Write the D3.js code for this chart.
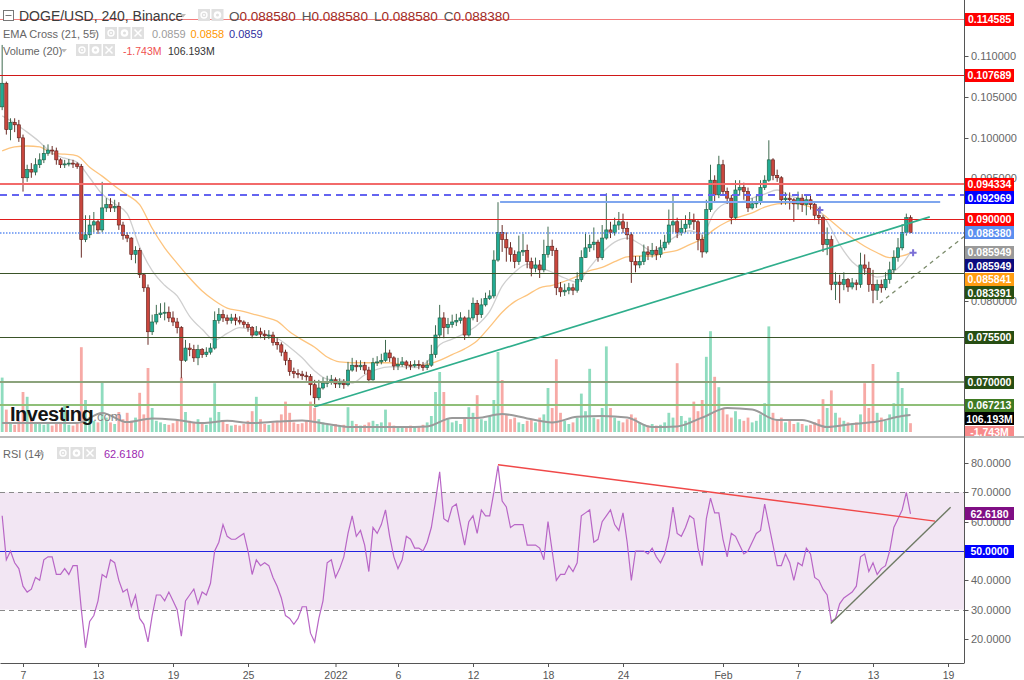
<!DOCTYPE html>
<html><head><meta charset="utf-8">
<script src="https://cdnjs.cloudflare.com/ajax/libs/d3/7.8.5/d3.min.js"></script>
<style>html,body{margin:0;padding:0;background:#fff;overflow:hidden}svg{display:block;font-family:"Liberation Sans",Arial,sans-serif}</style>
</head><body><svg id="chart" width="1024" height="680"></svg>
<script>
// ---------------- DATA ----------------
const firstBar = Date.UTC(2021, 11, 5, 8);   // bars every 8 hours
const barHours = 8;
const firstOpen = 0.1038;
const closes = [
0.1067,0.1010,0.1019,0.1016,0.1000,0.0951,0.0961,0.0958,0.0967,0.0973,
0.0981,0.0985,0.0984,0.0973,0.0967,0.0968,0.0969,0.0968,0.0965,0.0875,
0.0881,0.0893,0.0897,0.0887,0.0914,0.0918,0.0914,0.0916,0.0893,0.0880,
0.0877,0.0857,0.0862,0.0832,0.0816,0.0762,0.0774,0.0783,0.0785,0.0786,
0.0779,0.0774,0.0767,0.0727,0.0742,0.0740,0.0730,0.0740,0.0734,0.0737,
0.0742,0.0776,0.0783,0.0779,0.0776,0.0779,0.0776,0.0774,0.0771,0.0767,
0.0758,0.0762,0.0759,0.0757,0.0758,0.0749,0.0746,0.0737,0.0727,0.0713,
0.0711,0.0710,0.0708,0.0707,0.0697,0.0681,0.0693,0.0699,0.0700,0.0703,
0.0698,0.0699,0.0697,0.0715,0.0721,0.0719,0.0721,0.0715,0.0703,0.0724,
0.0725,0.0727,0.0736,0.0730,0.0720,0.0722,0.0725,0.0721,0.0720,0.0722,
0.0721,0.0718,0.0721,0.0734,0.0758,0.0779,0.0767,0.0771,0.0774,0.0776,
0.0779,0.0758,0.0779,0.0797,0.0783,0.0795,0.0803,0.0806,0.0850,0.0884,
0.0875,0.0865,0.0857,0.0848,0.0860,0.0862,0.0848,0.0840,0.0844,0.0838,
0.0857,0.0867,0.0862,0.0816,0.0811,0.0813,0.0816,0.0813,0.0826,0.0853,
0.0865,0.0869,0.0872,0.0853,0.0877,0.0887,0.0884,0.0893,0.0897,0.0889,
0.0881,0.0848,0.0844,0.0848,0.0860,0.0857,0.0862,0.0857,0.0865,0.0872,
0.0893,0.0897,0.0884,0.0889,0.0894,0.0899,0.0897,0.0875,0.0860,0.0912,
0.0948,0.0930,0.0967,0.0934,0.0926,0.0902,0.0936,0.0939,0.0934,0.0914,
0.0919,0.0921,0.0939,0.0948,0.0973,0.0954,0.0951,0.0924,0.0926,0.0924,
0.0919,0.0926,0.0918,0.0924,0.0918,0.0905,0.0902,0.0869,0.0875,0.0820,
0.0823,0.0820,0.0826,0.0817,0.0822,0.0820,0.0844,0.0840,0.0820,0.0813,
0.0820,0.0816,0.0826,0.0838,0.0853,0.0865,0.0884,0.0902,0.08838];
const highs = [
0.1114,0.1069,0.1024,0.1024,0.1022,0.1004,0.0967,0.0969,0.0975,0.0981,
0.0991,0.0992,0.0990,0.0988,0.0975,0.0973,0.0974,0.0973,0.0970,0.0968,
0.0905,0.0905,0.0909,0.0900,0.0946,0.0926,0.0926,0.0924,0.0921,0.0897,
0.0884,0.0878,0.0867,0.0865,0.0834,0.0820,0.0783,0.0795,0.0797,0.0798,
0.0793,0.0787,0.0779,0.0769,0.0752,0.0748,0.0746,0.0746,0.0742,0.0743,
0.0748,0.0787,0.0791,0.0789,0.0783,0.0784,0.0784,0.0781,0.0776,0.0774,
0.0769,0.0769,0.0767,0.0764,0.0764,0.0762,0.0754,0.0749,0.0740,0.0730,
0.0718,0.0716,0.0714,0.0713,0.0710,0.0703,0.0703,0.0706,0.0708,0.0709,
0.0706,0.0705,0.0704,0.0725,0.0730,0.0727,0.0727,0.0725,0.0719,0.0730,
0.0732,0.0735,0.0752,0.0740,0.0732,0.0730,0.0731,0.0727,0.0726,0.0727,
0.0727,0.0725,0.0727,0.0746,0.0770,0.0795,0.0786,0.0779,0.0783,0.0784,
0.0786,0.0781,0.0789,0.0804,0.0801,0.0803,0.0810,0.0813,0.0862,0.0921,
0.0893,0.0884,0.0872,0.0862,0.0880,0.0882,0.0869,0.0853,0.0853,0.0850,
0.0875,0.0891,0.0875,0.0865,0.0823,0.0821,0.0822,0.0821,0.0835,0.0862,
0.0884,0.0881,0.0890,0.0875,0.0893,0.0932,0.0897,0.0902,0.0909,0.0907,
0.0897,0.0884,0.0855,0.0855,0.0869,0.0867,0.0871,0.0867,0.0875,0.0881,
0.0912,0.0930,0.0902,0.0899,0.0905,0.0909,0.0907,0.0899,0.0881,0.0924,
0.0967,0.0954,0.0978,0.0973,0.0939,0.0930,0.0948,0.0948,0.0945,0.0939,
0.0926,0.0929,0.0948,0.0954,0.0997,0.0975,0.0961,0.0953,0.0933,0.0933,
0.0926,0.0934,0.0931,0.0930,0.0929,0.0922,0.0914,0.0905,0.0890,0.0880,
0.0835,0.0832,0.0835,0.0828,0.0828,0.0826,0.0859,0.0857,0.0848,0.0838,
0.0826,0.0826,0.0835,0.0848,0.0862,0.0877,0.0894,0.0907,0.0905];
const lows = [
0.1034,0.1004,0.0997,0.1007,0.0995,0.0934,0.0946,0.0951,0.0954,0.0963,
0.0969,0.0978,0.0979,0.0967,0.0963,0.0963,0.0965,0.0963,0.0962,0.0853,
0.0872,0.0877,0.0884,0.0882,0.0884,0.0909,0.0909,0.0909,0.0887,0.0875,
0.0872,0.0850,0.0846,0.0828,0.0811,0.0746,0.0758,0.0771,0.0779,0.0776,
0.0774,0.0769,0.0760,0.0705,0.0725,0.0732,0.0725,0.0721,0.0730,0.0731,
0.0734,0.0740,0.0772,0.0774,0.0771,0.0772,0.0770,0.0771,0.0767,0.0762,
0.0754,0.0757,0.0754,0.0752,0.0753,0.0745,0.0740,0.0732,0.0721,0.0708,
0.0705,0.0705,0.0703,0.0702,0.0684,0.0670,0.0678,0.0691,0.0694,0.0697,
0.0693,0.0693,0.0692,0.0695,0.0713,0.0713,0.0715,0.0710,0.0699,0.0702,
0.0720,0.0722,0.0725,0.0725,0.0715,0.0715,0.0719,0.0716,0.0715,0.0718,
0.0716,0.0714,0.0715,0.0719,0.0730,0.0754,0.0754,0.0759,0.0767,0.0769,
0.0772,0.0752,0.0756,0.0776,0.0774,0.0779,0.0793,0.0801,0.0803,0.0848,
0.0860,0.0848,0.0848,0.0840,0.0844,0.0855,0.0840,0.0830,0.0835,0.0828,
0.0835,0.0853,0.0855,0.0807,0.0805,0.0806,0.0808,0.0807,0.0810,0.0823,
0.0853,0.0860,0.0862,0.0848,0.0850,0.0875,0.0877,0.0880,0.0887,0.0883,
0.0875,0.0822,0.0835,0.0840,0.0844,0.0850,0.0853,0.0850,0.0853,0.0862,
0.0869,0.0884,0.0877,0.0880,0.0884,0.0889,0.0887,0.0862,0.0853,0.0858,
0.0909,0.0920,0.0926,0.0929,0.0919,0.0894,0.0899,0.0929,0.0924,0.0909,
0.0912,0.0914,0.0918,0.0936,0.0946,0.0948,0.0946,0.0918,0.0918,0.0912,
0.0897,0.0912,0.0909,0.0905,0.0912,0.0899,0.0894,0.0860,0.0856,0.0813,
0.0801,0.0797,0.0813,0.0811,0.0814,0.0813,0.0816,0.0832,0.0811,0.0797,
0.0801,0.0810,0.0813,0.0821,0.0833,0.0848,0.0862,0.0880,0.0883];
const volumes = [ // millions
340,140,60,45,70,250,220,80,50,60, 45,55,40,60,50,170,45,40,55,530,
200,90,70,60,310,90,60,50,125,80, 120,70,90,245,110,400,150,70,60,50,
45,55,80,340,125,70,60,80,50,45, 90,305,125,70,50,40,45,40,50,70,
130,220,80,50,45,60,70,110,190,120, 60,50,55,70,190,150,80,60,45,40,
50,40,45,155,70,50,40,45,60,70, 50,60,140,60,40,35,30,35,40,30,
35,45,60,100,250,375,250,80,60,70, 50,90,155,120,230,80,70,100,200,500,
325,110,80,90,60,50,70,80,60,90, 110,275,150,455,120,70,50,60,90,240,
130,395,90,80,150,535,150,90,70,60, 80,110,90,60,50,40,50,40,45,60,
120,90,430,100,70,90,190,130,200,470, 630,345,280,150,110,90,130,80,70,90,
60,70,110,180,660,120,80,90,60,70, 50,60,50,40,45,60,80,205,150,260,
120,90,70,60,50,60,110,305,150,425, 120,90,70,110,180,375,275,150,55];
const rsi = [
62,47,50,46,44,38,36,37,41,40, 47,48,48,42,42,44,42,45,45,30,
17,26,28,33,42,41,47,46,40,36, 37,31,35,27,25,19,28,35,35,33,
36,33,30,21,33,35,37,32,36,35, 39,50,53,59,55,54,54,55,56,50,
42,47,45,46,45,41,38,34,28,27, 25,27,31,31,22,19,27,33,46,47,
41,44,48,56,62,55,57,52,43,58, 56,59,64,55,48,44,47,55,54,51,
51,50,53,58,67,77,61,60,65,66, 59,52,60,62,56,64,62,62,70,79,
67,65,58,59,59,59,52,52,52,51, 47,60,50,40,42,42,45,43,46,62,
63,64,53,54,60,62,64,59,57,63, 53,40,50,50,50,49,51,48,46,49,
55,65,56,55,58,62,61,51,45,61, 68,63,63,54,48,56,55,52,49,50,
53,56,57,66,59,52,45,45,49,46, 40,46,45,51,49,41,40,37,35,26,
27,32,34,35,36,38,48,49,43,46, 42,44,45,50,58,61,64,70,62.618];
// EMA values read every 3rd bar (last value = last bar)
const ema21 = [
0.1027,0.1018,0.1007,0.0995,0.0981,0.0975,0.0970,0.0951,0.0931,0.0919,
0.0907,0.0866,0.0837,0.0819,0.0806,0.0781,0.0765,0.0752,0.0760,0.0767,
0.0764,0.0759,0.0754,0.0743,0.0730,0.0714,0.0704,0.0703,0.0699,0.0709,
0.0716,0.0719,0.0719,0.0718,0.0725,0.0746,0.0753,0.0760,0.0770,0.0787,
0.0818,0.0835,0.0845,0.0841,0.0835,0.0828,0.0823,0.0841,0.0859,0.0872,
0.0877,0.0870,0.0861,0.0870,0.0880,0.0886,0.0882,0.0909,0.0920,0.0921,
0.0926,0.0931,0.0936,0.0929,0.0924,0.0918,0.0897,0.0869,0.0848,0.0837,
0.0829,0.0833,0.0845,0.085949];
const ema55 = [
0.0984,0.0989,0.0990,0.0989,0.0981,0.0980,0.0978,0.0964,0.0953,0.0941,
0.0930,0.0918,0.0889,0.0865,0.0846,0.0828,0.0812,0.0800,0.0791,0.0788,
0.0784,0.0780,0.0775,0.0762,0.0752,0.0743,0.0731,0.0725,0.0724,0.0724,
0.0724,0.0724,0.0722,0.0721,0.0722,0.0727,0.0734,0.0741,0.0751,0.0768,
0.0786,0.0799,0.0807,0.0816,0.0819,0.0824,0.0830,0.0837,0.0841,0.0848,
0.0854,0.0855,0.0855,0.0859,0.0862,0.0869,0.0876,0.0888,0.0897,0.0903,
0.0908,0.0915,0.0919,0.0920,0.0918,0.0913,0.0902,0.0889,0.0877,0.0867,
0.0859,0.0853,0.0855,0.085841];
// Volume MA(20) read every 6th bar (millions)
const volMa = [56,56,56,56,119,62,85,75,56,70,56,65,72,50,31,31,31,35,88,88,
112,85,60,95,100,90,31,35,90,150,140,75,75,31,50,65,100,106.193];
// horizontal levels
const levelPrices = [0.114585,0.107689,0.094334,0.092969,0.090000,0.088380,0.083391,0.075500,0.070000,0.067213];
const resistSegDates = ["2022-01-14T04:00Z","2022-02-18T09:00Z"];
const resistSegPrices = [0.0921,0.0921];
const trendUpDates = ["2021-12-30T08:00Z","2022-02-17T13:00Z"];
const trendUpPrices = [0.0670,0.0903];
const trendDashDates = ["2022-02-13T13:00Z","2022-02-20T07:00Z"];
const trendDashPrices = [0.0797,0.0879];
const crossDates = ["2022-02-08T18:00Z","2022-02-16T05:00Z"];
const crossPrices = [0.09115,0.0859];
const rsiDownDates = ["2022-01-14T00:00Z","2022-02-17T23:00Z"];
const rsiDownValues = [79.4,60.2];
const rsiUpDates = ["2022-02-09T15:00Z","2022-02-19T05:00Z"];
const rsiUpValues = [25.3,64.9];
// axis labels
const axisLabelValues = [0.114585,0.107689,0.094334,0.092969,0.090000,0.088380,0.085949,0.085949,0.085841,0.083391,0.075500,0.070000,0.067213];
const volLabelValues = [106.193,-1.743];
const priceTicks = [0.080,0.095,0.100,0.105,0.110];
const priceTickMarks = [0.070,0.075,0.080,0.085,0.090,0.095,0.100,0.105,0.110];
const rsiTicks = [20,30,40,60,70,80];
const rsiTickMarks = [20,30,40,50,60,70,80];
const rsiLevels = [70,50,30];
const dateTicks = ["2021-12-07","2021-12-13","2021-12-19","2021-12-25","2022-01-01","2022-01-06","2022-01-12","2022-01-18","2022-01-24","2022-02-01","2022-02-07","2022-02-13","2022-02-19"];
const dateLabels = ["7","13","19","25","2022","6","12","18","24","Feb","7","13","19"];
const ohlcLegend = [0.088580,0.088580,0.088580,0.088380];
const emaLegend = [0.0859,0.0858,0.0859];

// ---------------- LAYOUT ----------------
const svg = d3.select('#chart');
const AX = 964, PANE_B = 436, XAX_Y = 663;
const DAY = 864e5, PX_DAY = 12.5;
const origin = Date.UTC(2021,11,7) - (23/PX_DAY)*DAY;
const x = d3.scaleUtc().domain([new Date(origin), new Date(origin + AX/PX_DAY*DAY)]).range([0, AX]);
const yP = d3.scaleLinear().domain([0.067213, 0.114585]).range([405, 19]);
const yV = d3.scaleLinear().domain([0, 600]).range([432, 336]);
const yR = d3.scaleLinear().domain([20, 80]).range([639, 463]);
const barTime = i => new Date(firstBar + i*barHours*3600e3);
const fmtM = v => d3.format('.3f')(v).replace('\u2212','-') + 'M';
const snap = v => Math.round(v) + 0.5;

const bars = closes.map((c,i)=>({t:barTime(i), o:i?closes[i-1]:firstOpen, h:highs[i], l:lows[i], c, v:volumes[i], r:rsi[i]}));
const isUp = d => d.c >= d.o;

const defs = svg.append('defs');
defs.append('clipPath').attr('id','cp').append('rect').attr('x',0).attr('y',0).attr('width',AX).attr('height',PANE_B);
defs.append('clipPath').attr('id','cr').append('rect').attr('x',0).attr('y',440).attr('width',AX).attr('height',XAX_Y-440);
defs.append('clipPath').attr('id','cl').append('rect').attr('x',0).attr('y',0).attr('width',1024).attr('height',PANE_B);

svg.append('rect').attr('width',1024).attr('height',680).attr('fill','#fff');

// ---------------- PRICE PANE ----------------
const P = svg.append('g').attr('clip-path','url(#cp)');
P.append('g').selectAll('rect').data(bars).join('rect')
  .attr('x',d=>x(d.t)-1.4).attr('width',2.8)
  .attr('y',d=>yV(d.v)).attr('height',d=>yV(0)-yV(d.v))
  .attr('fill',d=>isUp(d)?'#8fdcbf':'#f7aaa6');
const volMaBars = d3.range(0,217,6).concat([218]);
P.append('path').datum(volMa).attr('fill','none').attr('stroke','#9a9a9a').attr('stroke-width',2)
  .attr('d', d3.line().x((d,i)=>x(barTime(volMaBars[i]))).y(d=>yV(d)).curve(d3.curveMonotoneX));

const emaBars = d3.range(0,217,3).concat([218]);
const emaLine = d3.line().x((d,i)=>x(barTime(emaBars[i]))).y(d=>yP(d)).curve(d3.curveMonotoneX);
P.append('path').datum(ema55).attr('fill','none').attr('stroke','#fdc47e').attr('stroke-width',1.3).attr('d',emaLine);
P.append('path').datum(ema21).attr('fill','none').attr('stroke','#cfcfcf').attr('stroke-width',1.3).attr('d',emaLine);

const gC = P.append('g');
gC.selectAll('line').data(bars).join('line')
  .attr('x1',d=>x(d.t)).attr('x2',d=>x(d.t)).attr('y1',d=>yP(d.h)).attr('y2',d=>yP(d.l))
  .attr('stroke',d=>isUp(d)?'#3f6b50':'#6b2d27').attr('stroke-width',1);
gC.selectAll('rect').data(bars).join('rect')
  .attr('x',d=>x(d.t)-1.6).attr('width',3.2)
  .attr('y',d=>yP(Math.max(d.o,d.c))).attr('height',d=>Math.max(1,Math.abs(yP(d.o)-yP(d.c))))
  .attr('fill',d=>isUp(d)?'#22ab94':'#c9463d')
  .attr('stroke',d=>isUp(d)?'#1f5a3c':'#5e1f1a').attr('stroke-width',0.6);

const levelStyle = [
  {c:'#f47a7a',w:1,dash:null},{c:'#d01818',w:1,dash:null},{c:'#f26a6a',w:2,dash:null},
  {c:'#6464f0',w:2,dash:'7,5'},{c:'#e01c1c',w:1,dash:null},{c:'#5f8ff2',w:2,dash:'1.5,1.5'},
  {c:'#3a5428',w:1,dash:null},{c:'#3a5428',w:1,dash:null},{c:'#8ca37c',w:2,dash:null},{c:'#8fbf78',w:2,dash:null}];
P.append('g').selectAll('line').data(levelPrices).join('line')
  .attr('x1',0).attr('x2',AX)
  .attr('y1',(d,i)=>levelStyle[i].w===1?snap(yP(d)):Math.round(yP(d)))
  .attr('y2',(d,i)=>levelStyle[i].w===1?snap(yP(d)):Math.round(yP(d)))
  .attr('stroke',(d,i)=>levelStyle[i].c).attr('stroke-width',(d,i)=>levelStyle[i].w)
  .attr('stroke-opacity',(d,i)=>i===5?0.75:1)
  .attr('stroke-dasharray',(d,i)=>levelStyle[i].dash);

P.append('line').attr('x1',x(new Date(resistSegDates[0]))).attr('x2',x(new Date(resistSegDates[1])))
  .attr('y1',Math.round(yP(resistSegPrices[0]))).attr('y2',Math.round(yP(resistSegPrices[1]))).attr('stroke','#7fa6ee').attr('stroke-width',2);
P.append('line').attr('x1',x(new Date(trendUpDates[0]))).attr('x2',x(new Date(trendUpDates[1])))
  .attr('y1',yP(trendUpPrices[0])).attr('y2',yP(trendUpPrices[1])).attr('stroke','#2fae8c').attr('stroke-width',1.6);
P.append('line').attr('x1',x(new Date(trendDashDates[0]))).attr('x2',x(new Date(trendDashDates[1])))
  .attr('y1',yP(trendDashPrices[0])).attr('y2',yP(trendDashPrices[1])).attr('stroke','#7c8c6c').attr('stroke-width',1.3).attr('stroke-dasharray','4,4');
crossDates.forEach((dt,i)=>{
  const cx=x(new Date(dt)), cy=yP(crossPrices[i]);
  P.append('path').attr('d',`M${cx-3.5},${cy}H${cx+3.5}M${cx},${cy-3.5}V${cy+3.5}`).attr('stroke','#7b6fd6').attr('stroke-width',2);
});

const wm = svg.append('text').attr('x',10).attr('y',421);
wm.append('tspan').text('Investing').attr('font-size',20).attr('font-weight','bold').attr('fill','#151515').attr('letter-spacing','-0.5');
wm.append('tspan').text('.com').attr('font-size',13).attr('fill','#8a8a8a');

// ---------------- RSI PANE ----------------
const R = svg.append('g').attr('clip-path','url(#cr)');
R.append('rect').attr('x',0).attr('width',AX).attr('y',yR(70)).attr('height',yR(30)-yR(70)).attr('fill','#f2e6f3');
R.append('g').selectAll('line').data(rsiLevels).join('line')
  .attr('x1',0).attr('x2',AX).attr('y1',d=>snap(yR(d))).attr('y2',d=>snap(yR(d)))
  .attr('stroke',d=>d===50?'#2222e0':'#8a8a8a').attr('stroke-width',1)
  .attr('stroke-dasharray',d=>d===50?null:'5,4');
R.append('path').datum(bars).attr('fill','none').attr('stroke','#b866c6').attr('stroke-width',1.2)
  .attr('d',d3.line().x(d=>x(d.t)).y(d=>yR(d.r)));
R.append('line').attr('x1',x(new Date(rsiDownDates[0]))).attr('x2',x(new Date(rsiDownDates[1])))
  .attr('y1',yR(rsiDownValues[0])).attr('y2',yR(rsiDownValues[1])).attr('stroke','#f04848').attr('stroke-width',1.4);
R.append('line').attr('x1',x(new Date(rsiUpDates[0]))).attr('x2',x(new Date(rsiUpDates[1])))
  .attr('y1',yR(rsiUpValues[0])).attr('y2',yR(rsiUpValues[1])).attr('stroke','#6e7a64').attr('stroke-width',1.4);

svg.append('rect').attr('x',0).attr('y',436).attr('width',1024).attr('height',2).attr('fill','#b9b9b9');

// ---------------- AXES ----------------
const F = '"Liberation Sans",Arial,sans-serif';
svg.append('line').attr('x1',AX+0.5).attr('x2',AX+0.5).attr('y1',0).attr('y2',XAX_Y).attr('stroke','#555');
const gx = svg.append('g').attr('transform',`translate(0,${XAX_Y})`)
  .call(d3.axisBottom(x).tickValues(dateTicks.map(d=>new Date(d+'T00:00Z'))).tickFormat((d,i)=>dateLabels[i]).tickSize(4).tickSizeOuter(0));
gx.select('.domain').attr('stroke','#555');
gx.selectAll('line').attr('stroke','#555');
gx.selectAll('text').attr('fill','#555').attr('font-size',10.5).attr('dy','0.9em').attr('font-family',F);

function rightAxis(scale, marks, labels, fmt){
  const g = svg.append('g').attr('transform',`translate(${AX},0)`);
  g.selectAll('line').data(marks).join('line').attr('x1',0.5).attr('x2',4.5)
    .attr('y1',d=>snap(scale(d))).attr('y2',d=>snap(scale(d))).attr('stroke','#555');
  g.selectAll('text').data(labels).join('text').attr('x',7).attr('y',d=>scale(d)).attr('dy','0.35em')
    .attr('fill','#666').attr('font-size',11).attr('font-family',F).text(fmt);
}
rightAxis(yP, priceTickMarks, priceTicks, d3.format('.6f'));
rightAxis(yR, rsiTickMarks, rsiTicks, d3.format('.4f'));

const boxColors = ['#ff0000','#ff0000','#ff0000','#0000ff','#ff0000','#5b8ff0','#9a9a9a','#0b0b7e','#ff9d12','#274e13','#274e13','#274e13','#3f7a22'];
const boxes = axisLabelValues.map((v,i)=>({y:yP(v), text:d3.format('.6f')(v), fill:boxColors[i]}));
boxes.push({y:yV(volLabelValues[0]), text:fmtM(volLabelValues[0]), fill:'#000'});
boxes.push({y:yV(0), text:fmtM(volLabelValues[1]), fill:'#f88a8a'});
let prev = -100;
boxes.forEach(b=>{ b.y = Math.max(b.y, prev+13.5); prev = b.y; });
const gB = svg.append('g').attr('clip-path','url(#cl)');
const rsiBoxes = [{y:yR(rsi[rsi.length-1]), text:d3.format('.4f')(rsi[rsi.length-1]), fill:'#7f0e84'},{y:yR(50), text:d3.format('.4f')(50), fill:'#0000ff'}];
function drawBox(g,b){
  g.append('rect').attr('x',965).attr('y',Math.round(b.y-6.5)).attr('width',49).attr('height',13).attr('fill',b.fill);
  g.append('text').attr('x',989.5).attr('y',Math.round(b.y)).attr('dy','0.35em').attr('text-anchor','middle')
   .attr('fill','#fff').attr('font-size',10.5).attr('font-weight','bold').text(b.text);
}
boxes.forEach(b=>drawBox(gB,b));
rsiBoxes.forEach(b=>drawBox(svg,b));

// ---------------- LEGENDS ----------------
function caret(x0,y0){ svg.append('path').attr('d',`M${x0},${y0}l6,0l-3,3.5z`).attr('fill','#bbb'); }
function icons(x0,y0,n){
  for(let k=0;k<n;k++){
    const bx=x0+k*13.5;
    svg.append('rect').attr('x',bx).attr('y',y0).attr('width',12).attr('height',12).attr('fill','#e0e0e0');
    if(k===0){ svg.append('circle').attr('cx',bx+6).attr('cy',y0+6).attr('r',3).attr('fill','none').attr('stroke','#fff').attr('stroke-width',1.4);
               svg.append('circle').attr('cx',bx+6).attr('cy',y0+6).attr('r',1).attr('fill','#fff'); }
    else if(k===1){ svg.append('circle').attr('cx',bx+6).attr('cy',y0+6).attr('r',3.8).attr('fill','#fff');
               svg.append('circle').attr('cx',bx+6).attr('cy',y0+6).attr('r',1.5).attr('fill','#e0e0e0'); }
    else { svg.append('path').attr('d',`M${bx+2.5},${y0+2.5}l7,7M${bx+9.5},${y0+2.5}l-7,7`).attr('stroke','#fff').attr('stroke-width',1.5); }
  }
}
svg.append('rect').attr('x',3.5).attr('y',10.5).attr('width',10).attr('height',10).attr('fill','#fff').attr('stroke','#777');
svg.append('line').attr('x1',5.5).attr('x2',11.5).attr('y1',15.5).attr('y2',15.5).attr('stroke','#777');
svg.append('text').attr('x',19).attr('y',21).attr('font-size',14).attr('fill','#3c3c3c').text('DOGE/USD, 240, Binance');
caret(180,14);
icons(198,9,2);
const ohlc = svg.append('text').attr('x',229).attr('y',21).attr('font-size',13.5);
['O','H','L','C'].forEach((k,i)=>{
  ohlc.append('tspan').attr('fill','#555').attr('dx',i?6:0).text(k);
  ohlc.append('tspan').attr('fill','#9e2b25').text(d3.format('.6f')(ohlcLegend[i]));
});
svg.append('text').attr('x',3).attr('y',38).attr('font-size',11).attr('fill','#666').text('EMA Cross (21, 55)');
caret(91,32);
icons(105,27,3);
const emaCols = ['#9c9c9c','#ff9800','#2f2f9f'];
emaLegend.forEach((v,i)=>svg.append('text').attr('x',152+i*38.5).attr('y',38).attr('font-size',11).attr('fill',emaCols[i]).text(d3.format('.4f')(v)));
svg.append('text').attr('x',3).attr('y',55).attr('font-size',11).attr('fill','#666').text('Volume (20)');
caret(61,49);
icons(76,44,3);
svg.append('text').attr('x',123).attr('y',55).attr('font-size',10.5).attr('fill','#f05050').text(fmtM(volLabelValues[1]));
svg.append('text').attr('x',168).attr('y',55).attr('font-size',10.5).attr('fill','#333').text(fmtM(volLabelValues[0]));
svg.append('text').attr('x',3).attr('y',458).attr('font-size',11).attr('fill','#666').text('RSI (14)');
caret(38,452);
icons(57,447,3);
svg.append('text').attr('x',104).attr('y',458).attr('font-size',11).attr('fill','#9c27b0').text(d3.format('.4f')(rsi[rsi.length-1]));
</script></body></html>
